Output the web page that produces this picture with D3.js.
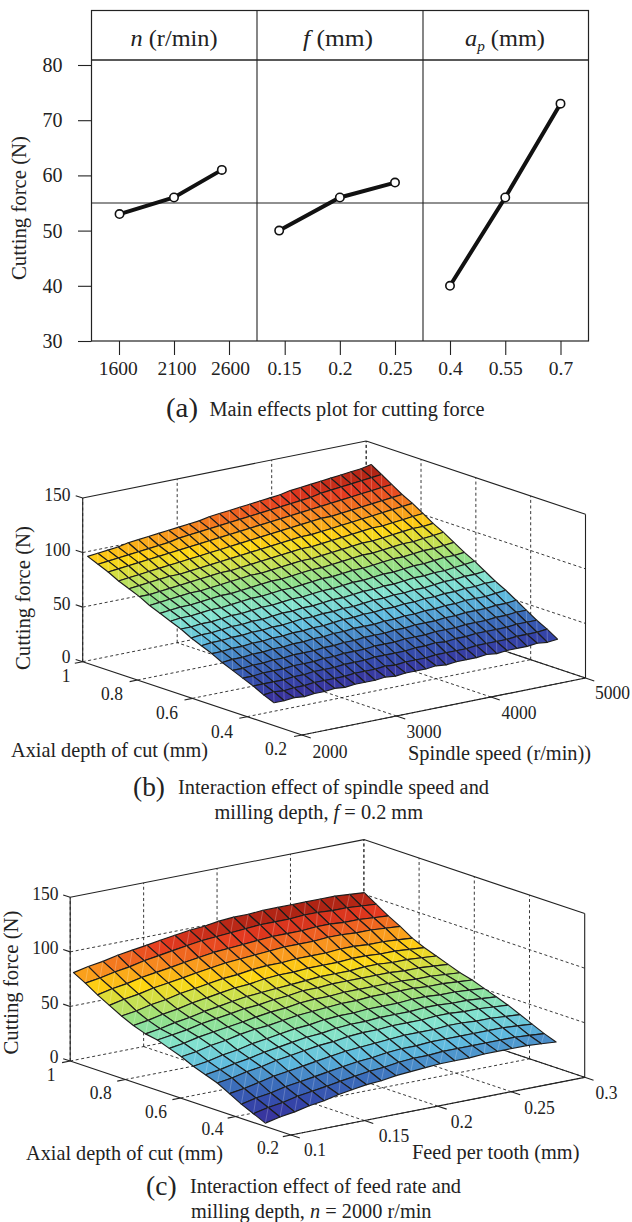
<!DOCTYPE html>
<html lang="en">
<head>
  <meta charset="UTF-8">
  <title>Cutting force main effects and interaction surfaces</title>
  <script src="https://d3js.org/d3.v7.min.js"></script>
  <style>
    body { margin: 0; background: #fff; }
    svg { display: block; }
    text { font-family: "Liberation Serif", serif; fill: #222; }
  </style>
</head>
<body>
  <div id="my_dataviz"></div>

  <script>
    // Main effects data (panel a)
    var yTicks = [30, 40, 50, 60, 70, 80];
    var nTicks = [1600, 2100, 2600];
    var nLevels = [1605, 2100, 2535];
    var nForce = [53, 56, 61];
    var fTicks = [0.15, 0.2, 0.25];
    var fLevels = [0.145, 0.2, 0.25];
    var fForce = [50, 56, 58.7];
    var apTicks = [0.4, 0.55, 0.7];
    var apLevels = [0.4, 0.55, 0.7];
    var apForce = [40, 56, 73];
    var grandMean = 55;

    // Surface tick values shared by (b) and (c)
    var forceTicks = [0, 50, 100, 150];
    var depthTicks = [0.2, 0.4, 0.6, 0.8, 1];
    var speedTicks = [2000, 3000, 4000, 5000];
    var feedTicks = [0.1, 0.15, 0.2, 0.25, 0.3];

    // Surface (b): rows = depth, columns = spindle speed
    var bSpeed = [2000,2107,2214,2321,2429,2536,2643,2750,2857,2964,3071,3179,3286,3393,3500,3607,3714,3821,3929,4036,4143,4250,4357,4464,4571,4679,4786,4893,5000];
    var bDepth = [0.302,0.34,0.378,0.416,0.453,0.491,0.529,0.567,0.604,0.642,0.68,0.718,0.756,0.793,0.831,0.869,0.907,0.944,0.982];
    var bForce = [
      [21,21,22,21,22,22,23,22,23,23,23,24,23,24,24,24,25,24,25,25,25,26,25,26,26,26,27,26,27],
      [25,26,25,26,26,27,27,27,27,28,28,28,29,28,29,29,29,30,30,30,30,31,31,31,31,32,32,32,33],
      [30,30,30,30,31,31,32,32,32,33,33,33,34,34,34,34,35,35,36,35,36,36,37,37,37,37,38,38,38],
      [34,34,35,35,35,36,36,36,37,37,38,38,38,39,39,39,40,40,40,41,41,41,42,42,42,43,43,44,44],
      [38,38,39,39,40,40,41,41,41,42,42,43,43,44,44,44,45,45,46,46,46,47,47,48,48,48,49,49,50],
      [42,43,43,44,44,45,45,46,46,47,47,48,48,49,49,49,50,50,51,51,52,52,53,53,54,54,54,55,56],
      [47,47,48,48,49,49,50,50,51,51,52,52,53,54,54,55,55,56,56,57,57,58,58,59,59,60,60,61,61],
      [51,52,52,53,53,54,54,55,55,56,57,57,58,58,59,59,60,61,61,62,62,63,63,64,65,65,66,66,67],
      [55,56,56,57,58,58,59,59,60,61,61,62,62,63,64,64,65,66,66,67,67,68,69,69,70,70,71,72,73],
      [60,60,61,61,62,63,63,64,65,65,66,67,67,68,69,69,70,71,71,72,73,73,74,75,75,76,77,77,78],
      [64,65,65,66,67,67,68,69,70,70,71,72,72,73,74,75,75,76,77,77,78,79,80,80,81,82,82,83,84],
      [68,69,70,70,71,72,73,73,74,75,76,77,77,78,79,80,80,81,82,83,84,84,85,86,87,87,88,89,90],
      [72,73,74,75,76,76,77,78,79,80,81,81,82,83,84,85,85,86,87,88,89,90,90,91,92,93,94,94,95],
      [77,77,78,79,80,81,82,83,84,84,85,86,87,88,89,90,91,91,92,93,94,95,96,97,97,98,99,100,101],
      [81,82,83,84,85,85,86,87,88,89,90,91,92,93,94,95,96,97,97,98,99,100,101,102,103,104,105,106,107],
      [85,86,87,88,89,90,91,92,93,94,95,96,97,98,99,100,101,102,103,104,105,105,106,107,108,109,110,111,112],
      [90,91,92,93,94,95,96,97,98,99,100,101,102,103,104,105,106,107,108,109,110,111,112,113,114,115,116,117,118],
      [94,95,96,97,98,99,100,101,103,104,105,106,107,108,109,110,111,112,113,114,115,116,118,119,120,121,122,123,124],
      [98,99,100,101,103,104,105,106,107,108,109,110,112,113,114,115,116,117,118,119,121,122,123,124,125,126,127,128,130]
    ];

    // Surface (c): rows = depth, columns = feed per tooth
    var cFeed = [0.1,0.11,0.12,0.13,0.14,0.15,0.159,0.169,0.179,0.189,0.199,0.209,0.219,0.229,0.239,0.249,0.258,0.268,0.278,0.288,0.298];
    var cDepth = [0.293,0.336,0.38,0.423,0.467,0.51,0.554,0.597,0.641,0.684,0.727,0.771,0.814,0.858,0.901,0.945,0.988];
    var cForce = [
      [3,6,8,11,13,16,18,20,21,23,24,25,26,26,26,27,27,27,27,26,25],
      [8,11,13,16,18,20,22,24,26,27,29,30,30,31,31,31,31,31,31,30,29],
      [13,16,18,21,23,25,27,29,31,32,34,35,35,36,36,36,36,36,36,35,34],
      [19,21,24,27,29,31,33,35,37,38,39,40,41,41,41,42,42,41,41,40,39],
      [25,27,30,32,35,37,39,41,42,44,45,45,46,46,46,47,47,46,46,45,44],
      [29,31,34,36,39,41,43,45,46,48,49,49,50,50,50,51,51,50,50,49,48],
      [33,35,38,40,43,45,47,49,50,52,53,53,54,54,54,55,55,54,54,53,52],
      [38,40,43,45,48,50,51,53,55,56,57,58,58,59,59,59,59,58,58,57,56],
      [42,44,47,49,51,53,55,57,58,60,61,61,62,62,62,62,62,61,61,60,59],
      [46,48,50,53,55,57,59,60,62,63,65,65,66,66,66,66,66,65,65,64,63],
      [48,50,53,55,58,60,62,64,65,66,67,68,69,69,69,70,70,69,69,68,67],
      [52,54,57,59,62,64,66,68,69,71,72,72,73,73,73,74,74,73,73,72,71],
      [57,59,62,64,67,69,71,73,74,76,77,77,78,78,78,79,79,78,78,77,76],
      [63,66,68,71,73,75,77,79,81,82,83,84,85,85,85,86,86,85,85,84,83],
      [69,72,74,77,79,81,83,85,87,88,89,90,91,91,91,92,92,91,91,90,89],
      [76,78,81,83,86,88,90,92,94,95,96,97,98,98,98,99,99,98,98,97,96],
      [82,85,87,90,92,94,96,98,100,101,103,104,104,105,105,105,105,105,105,104,103]
    ];

    var ink = "#222";

    var svg = d3.select("#my_dataviz")
      .append("svg")
      .attr("width", 632)
      .attr("height", 1222);

    // Put a label with its visual centre on y; width fits it to the measured length
    function label(x, y, html, size, anchor, width) {
      var t = svg.append("text")
        .attr("x", x)
        .attr("y", y)
        .attr("dy", ".34em")
        .attr("font-size", size)
        .attr("text-anchor", anchor || "middle")
        .html(html);
      if (width) t.attr("textLength", width).attr("lengthAdjust", "spacingAndGlyphs");
      return t;
    }

    // Tick numbers of the surfaces are tall and narrow in the original
    function tickWidth(s) {
      var dots = s.indexOf(".") >= 0 ? 1 : 0;
      return (s.length - dots) * 8.75 + dots * 4.4;
    }

    function rule(x1, y1, x2, y2, dashed, width) {
      return svg.append("line")
        .attr("x1", x1).attr("y1", y1)
        .attr("x2", x2).attr("y2", y2)
        .attr("stroke", ink)
        .attr("stroke-width", width || 1.1)
        .attr("stroke-dasharray", dashed ? "3 2.6" : null);
    }

    // ---- Panel (a) ----
    var frame = { left: 91.5, right: 588.5, top: 10.5, head: 60, bottom: 341 };
    var yForce = d3.scaleLinear().domain([30, 80]).range([frame.bottom, 65]);

    var panels = [
      { ticks: nTicks, levels: nLevels, force: nForce, range: [119, 229], format: d3.format("d"), nudge: [-1.3, 2.6, 1], title: "<tspan font-style='italic'>n</tspan> (r/min)", tx: 174, tw: 87 },
      { ticks: fTicks, levels: fLevels, force: fForce, range: [284.7, 395], format: String, nudge: [-0.7, 0, 0], title: "<tspan font-style='italic'>f</tspan> (mm)", tx: 338, tw: 70 },
      { ticks: apTicks, levels: apLevels, force: apForce, range: [450, 560.5], format: String, nudge: [0, 0, 0], title: "<tspan font-style='italic'>a</tspan><tspan font-style='italic' font-size='15' dy='5'>p</tspan><tspan dy='-5'> (mm)</tspan>", tx: 505, tw: 80 }
    ];

    svg.append("rect")
      .attr("x", frame.left).attr("y", frame.top)
      .attr("width", frame.right - frame.left)
      .attr("height", frame.bottom - frame.top)
      .attr("fill", "none").attr("stroke", ink).attr("stroke-width", 1.2);
    rule(frame.left, frame.head, frame.right, frame.head, false, 1.3);
    rule(257, frame.top, 257, frame.bottom);
    rule(423, frame.top, 423, frame.bottom);
    rule(frame.left, yForce(grandMean), frame.right, yForce(grandMean));

    var yAxis = svg.append("g")
      .attr("transform", "translate(" + frame.left + ",0)")
      .call(d3.axisLeft(yForce).tickValues(yTicks).tickSize(13.5).tickPadding(15.5));
    yAxis.select(".domain").remove();
    yAxis.selectAll("line").attr("stroke", ink).attr("stroke-width", 1.1);
    yAxis.selectAll("text").attr("font-size", 20).attr("font-family", "Liberation Serif").attr("fill", ink);

    var line = d3.line();
    panels.forEach(function (p) {
      var x = d3.scaleLinear().domain([p.ticks[0], p.ticks[2]]).range(p.range);
      var xAxis = svg.append("g")
        .attr("transform", "translate(0," + frame.bottom + ")")
        .call(d3.axisBottom(x).tickValues(p.ticks).tickFormat(p.format).tickSize(14).tickPadding(6));
      xAxis.select(".domain").remove();
      xAxis.selectAll("line").attr("stroke", ink).attr("stroke-width", 1.1);
      xAxis.selectAll("text")
        .attr("font-size", 19.5)
        .attr("font-family", "Liberation Serif")
        .attr("fill", ink)
        .attr("dx", function (d, i) { return p.nudge[i]; });

      var pts = p.levels.map(function (l, i) { return [x(l), yForce(p.force[i])]; });
      svg.append("path")
        .attr("d", line(pts))
        .attr("fill", "none")
        .attr("stroke", "#111")
        .attr("stroke-width", 4);
      svg.selectAll(null)
        .data(pts)
        .enter()
        .append("circle")
        .attr("cx", function (d) { return d[0]; })
        .attr("cy", function (d) { return d[1]; })
        .attr("r", 4.2)
        .attr("fill", "#fff")
        .attr("stroke", "#111")
        .attr("stroke-width", 1.6);
      label(p.tx, 37.5, p.title, 24, "middle", p.tw);
    });

    label(19, 208, "Cutting force (N)", 21.5, "middle", 144).attr("transform", "rotate(-90 19 208)");
    label(166, 407, "(a)", 28, "start", 32);
    label(209.5, 409, "Main effects plot for cutting force", 20.5, "start", 275);

    // ---- Panels (b) and (c) ----
    var colorStops = [0, 0.1, 0.2, 0.3, 0.4, 0.5, 0.6, 0.68, 0.78, 0.88, 1];
    var colorValues = ["#3a2a98", "#3448aa", "#3c70bb", "#5fbbdf", "#82e2cf", "#90e08c", "#c8e050", "#ffd712", "#f8901f", "#e53a20", "#9c1c10"];

    function surfacePanel(o) {
      var sScale = d3.scaleLinear().domain(o.sDomain).range([0, 1]);
      var dScale = d3.scaleLinear().domain([0.2, 1]).range([0, 1]);
      var zScale = d3.scaleLinear().domain([0, 150]).range([0, o.height]);
      var color = d3.scaleLinear()
        .domain(colorStops.map(function (f) { return o.zMin + f * (o.zMax - o.zMin); }))
        .range(colorValues);

      // Oblique projection of the axes box
      function pt(s, d, z) {
        return [
          o.front[0] + sScale(s) * (o.right[0] - o.front[0]) + dScale(d) * (o.left[0] - o.front[0]),
          o.front[1] + sScale(s) * (o.right[1] - o.front[1]) + dScale(d) * (o.left[1] - o.front[1]) - zScale(z)
        ];
      }
      function seg(a, b, dashed, width) { return rule(a[0], a[1], b[0], b[1], dashed, width); }

      var s0 = o.sDomain[0], s1 = o.sDomain[1];

      // Dashed grid on the floor and the two back walls
      o.sTicks.forEach(function (s) {
        if (s !== s0) seg(pt(s, 0.2, 0), pt(s, 1, 0), true, 0.9);
        seg(pt(s, 1, 0), pt(s, 1, 150), true, 0.9);
      });
      depthTicks.forEach(function (d) {
        if (d !== 1) seg(pt(s0, d, 0), pt(s1, d, 0), true, 0.9);
        if (d !== 0.2) seg(pt(s1, d, 0), pt(s1, d, 150), true, 0.9);
      });
      forceTicks.forEach(function (z) {
        if (z === 150) return;
        seg(pt(s0, 1, z), pt(s1, 1, z), true, 0.9);
        if (z !== 0) seg(pt(s1, 1, z), pt(s1, 0.2, z), true, 0.9);
      });

      // Solid box edges
      seg(pt(s0, 1, 0), pt(s0, 1, 150));
      seg(pt(s0, 1, 150), pt(s1, 1, 150));
      seg(pt(s1, 1, 150), pt(s1, 0.2, 150));
      seg(pt(s1, 0.2, 150), pt(s1, 0.2, 0));
      seg(pt(s1, 1, 0), pt(s1, 0.2, 0));
      seg(pt(s0, 1, 0), pt(s0, 0.2, 0), false, 1.2);
      seg(pt(s0, 0.2, 0), pt(s1, 0.2, 0), false, 1.2);

      // Tick marks
      var sUnit = (o.sDomain[1] - o.sDomain[0]) / 36;
      forceTicks.forEach(function (z) {
        var a = pt(s0, 1, z);
        seg([a[0] - 7, a[1] - 2.3], a);
      });
      depthTicks.forEach(function (d) {
        var a = pt(s0, d, 0);
        seg(a, pt(s0 - sUnit, d, 0));
      });
      o.sTicks.forEach(function (s) {
        var a = pt(s, 0.2, 0);
        seg(a, pt(s, 0.2 - 0.032, 0));
      });

      // Surface, painted from the back corner forward
      var mesh = svg.append("g");
      for (var i = o.depth.length - 2; i >= 0; i--) {
        for (var j = o.s.length - 2; j >= 0; j--) {
          var a = pt(o.s[j], o.depth[i], o.force[i][j]);
          var b = pt(o.s[j + 1], o.depth[i], o.force[i][j + 1]);
          var c = pt(o.s[j + 1], o.depth[i + 1], o.force[i + 1][j + 1]);
          var d = pt(o.s[j], o.depth[i + 1], o.force[i + 1][j]);
          var mean = d3.mean([o.force[i][j], o.force[i][j + 1], o.force[i + 1][j + 1], o.force[i + 1][j]]);
          mesh.append("path")
            .attr("d", d3.line()([a, b, c, d]) + "Z")
            .attr("fill", color(mean))
            .attr("stroke", "#1c1c1c")
            .attr("stroke-width", 1.15)
            .attr("stroke-linejoin", "round");
          mesh.append("path")
            .attr("d", d3.line()([a, c]))
            .attr("stroke", "#fff")
            .attr("stroke-opacity", 0.28)
            .attr("stroke-width", 0.8);
        }
      }

      // Labels
      o.forceLabels.forEach(function (l) { label(o.forceRight, l[1], l[0], 19, "end", tickWidth(l[0])); });
      o.otherLabels.forEach(function (l) { label(l[1], l[2], l[0], 19, "middle", tickWidth(l[0])); });
      o.texts.forEach(function (t) { label(t[1], t[2], t[0], t[3], "start", t[4]); });
      label(o.yLabelX, o.yLabelY, "Cutting force (N)", 21.5, "middle", 144)
        .attr("transform", "rotate(-90 " + o.yLabelX + " " + o.yLabelY + ")");
    }

    surfacePanel({
      front: [302, 735], right: [585.5, 678], left: [82.7, 661.7], height: 163.7,
      sDomain: [2000, 5000], sTicks: speedTicks,
      s: bSpeed, depth: bDepth, force: bForce, zMin: 20, zMax: 130,
      forceRight: 70.5,
      forceLabels: [["150", 495], ["100", 550], ["50", 604], ["0", 657]],
      otherLabels: [["1", 66, 676], ["0.8", 112, 694], ["0.6", 167, 713], ["0.4", 222, 732], ["0.2", 276, 749],
        ["2000", 330, 752], ["3000", 424, 732], ["4000", 519, 713], ["5000", 612.5, 693]],
      texts: [
        ["Axial depth of cut (mm)", 11, 750, 21, 197],
        ["Spindle speed (r/min))", 408, 752.7, 21, 183],
        ["(b)", 133, 786, 28, 32],
        ["Interaction effect of spindle speed and", 178, 786.7, 20.5, 311],
        ["milling depth, <tspan font-style='italic'>f</tspan> = 0.2 mm", 214.5, 811.7, 20.5, 208.5]
      ],
      yLabelX: 23, yLabelY: 598
    });

    surfacePanel({
      front: [291, 1135], right: [584.7, 1077.3], left: [70.2, 1061], height: 163.7,
      sDomain: [0.1, 0.3], sTicks: feedTicks,
      s: cFeed, depth: cDepth, force: cForce, zMin: 3, zMax: 105,
      forceRight: 58.5,
      forceLabels: [["150", 894], ["100", 948], ["50", 1003], ["0", 1057]],
      otherLabels: [["1", 51, 1075], ["0.8", 100.8, 1093], ["0.6", 156, 1112], ["0.4", 212.5, 1129], ["0.2", 268, 1148],
        ["0.1", 315, 1150], ["0.15", 394, 1136], ["0.2", 461.7, 1121.7], ["0.25", 539.5, 1107.7], ["0.3", 606.5, 1092.7]],
      texts: [
        ["Axial depth of cut (mm)", 26, 1152.5, 21, 197],
        ["Feed per tooth (mm)", 412, 1151.7, 21, 167.4],
        ["(c)", 146, 1185, 28, 30.6],
        ["Interaction effect of feed rate and", 190, 1186, 20.5, 271],
        ["milling depth, <tspan font-style='italic'>n</tspan> = 2000 r/min", 191, 1210.7, 20.5, 240.5]
      ],
      yLabelX: 11, yLabelY: 982.5
    });
  </script>
</body>
</html>
